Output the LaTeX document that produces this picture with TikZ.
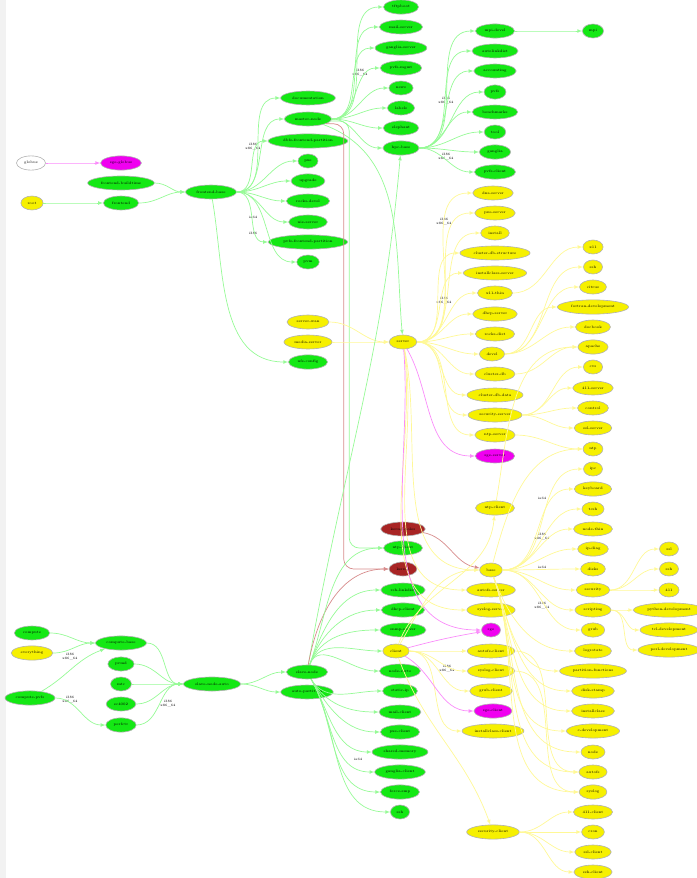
\documentclass[tikz,border=0pt]{standalone}
\usetikzlibrary{shapes.geometric}
\definecolor{myGreen}{RGB}{20,232,20}
\definecolor{myYellow}{RGB}{246,240,0}
\definecolor{myMagenta}{RGB}{240,0,240}
\definecolor{myBrown}{RGB}{168,36,36}
\definecolor{lineGreen}{RGB}{150,250,150}
\definecolor{lineYellow}{RGB}{255,248,150}
\definecolor{lineMagenta}{RGB}{250,140,250}
\definecolor{lineBrown}{RGB}{215,140,140}
\tikzset{
  vtx/.style={ellipse, draw=gray!60, line width=0.6pt, inner sep=3.4pt, minimum width=19pt, minimum height=14pt, font=\fontsize{3.6}{4}\selectfont},
  gn/.style={vtx, fill=myGreen},
  yn/.style={vtx, fill=myYellow},
  mn/.style={vtx, fill=myMagenta},
  rn/.style={vtx, fill=myBrown},
  wn/.style={vtx, fill=white},
  ge/.style={draw=lineGreen, line width=0.7pt, -latex, out=0, in=180},
  ye/.style={draw=lineYellow, line width=0.7pt, -latex, out=0, in=180},
  me/.style={draw=lineMagenta, line width=0.7pt, -latex, out=0, in=180},
  re/.style={draw=lineBrown, line width=0.7pt, -latex, out=0, in=180},
  arch/.style={font=\fontsize{3.4}{3.8}\selectfont, align=center, inner sep=0pt}
}
\begin{document}
\begin{tikzpicture}[x=1pt, y=-1pt]
		\useasboundingbox (0,0) rectangle (696,878);
		\fill[gray!10] (0,0) rectangle (6,878);
		%%%%%%%%%%%%% frontend side
		\node[wn] (globus) at (31, 163) {globus};
		\node[mn] (sge-globus) at (121, 163) {sge-globus};
		\node[gn] (frontend-buildtime) at (121, 183) {frontend-buildtime};
		\node[yn] (root) at (32, 203) {root};
		\node[gn] (frontend) at (121, 203) {frontend};
		\node[gn] (frontend-base) at (211, 192) {frontend-base};
		\node[gn] (documentation) at (308, 98) {documentation};
		\node[gn] (master-node) at (308, 119) {master-node};
		\node[gn] (dbfs-frontend-partition) at (308, 141) {dbfs-frontend-partition};
		\node[gn] (pxe) at (308, 161) {pxe};
		\node[gn] (upgrade) at (308, 181) {upgrade};
		\node[gn] (rocks-devel) at (308, 201) {rocks-devel};
		\node[gn] (nis-server) at (308, 222) {nis-server};
		\node[gn] (pvfs-frontend-partition) at (308, 242) {pvfs-frontend-partition};
		\node[gn] (pvm) at (308, 262) {pvm};
		\node[yn] (server-wan) at (308, 322) {server-wan};
		\node[yn] (media-server) at (308, 342) {media-server};
		\node[gn] (nfs-config) at (308, 362) {nfs-config};
		%%%%%%%%%%%%% master-node children
		\node[gn] (tftpboot) at (401, 7) {tftpboot};
		\node[gn] (mail-server) at (401, 27) {mail-server};
		\node[gn] (ganglia-server) at (401, 48) {ganglia-server};
		\node[gn] (pvfs-mgmt) at (401, 68) {pvfs-mgmt};
		\node[gn] (news) at (401, 88) {news};
		\node[gn] (labels) at (401, 108) {labels};
		\node[gn] (elephant) at (401, 128) {elephant};
		\node[gn] (hpc-base) at (401, 148) {hpc-base};
		%%%%%%%%%%%%% hpc-base children
		\node[gn] (mpi-devel) at (495, 31) {mpi-devel};
		\node[gn] (mpi) at (593, 31) {mpi};
		\node[gn] (autolinkdist) at (495, 51) {autolinkdist};
		\node[gn] (accounting) at (495, 71) {accounting};
		\node[gn] (pvfs) at (495, 92) {pvfs};
		\node[gn] (benchmarks) at (495, 112) {benchmarks};
		\node[gn] (tool) at (495, 132) {tool};
		\node[gn] (ganglia) at (495, 152) {ganglia};
		\node[gn] (pvfs-client) at (495, 172) {pvfs-client};
		%%%%%%%%%%%%% server side
		\node[yn] (server) at (403, 342) {server};
		\node[yn] (dns-server) at (493, 193) {dns-server};
		\node[yn] (pxe-server) at (495, 213) {pxe-server};
		\node[yn] (install) at (495, 233) {install};
		\node[yn] (cluster-db-structure) at (495, 253) {cluster-db-structure};
		\node[yn] (installclass-server) at (495, 273) {installclass-server};
		\node[yn] (x11-thin) at (495, 293) {x11-thin};
		\node[yn] (dhcp-server) at (495, 314) {dhcp-server};
		\node[yn] (rocks-dist) at (495, 334) {rocks-dist};
		\node[yn] (devel) at (492, 354) {devel};
		\node[yn] (cluster-db) at (495, 374) {cluster-db};
		\node[yn] (cluster-db-data) at (495, 395) {cluster-db-data};
		\node[yn] (security-server) at (495, 415) {security-server};
		\node[yn] (ntp-server) at (495, 435) {ntp-server};
		\node[mn] (sge-server) at (495, 456) {sge-server};
		\node[yn] (x11) at (593, 247) {x11};
		\node[yn] (ssh-d) at (593, 267) {ssh};
		\node[yn] (citrus) at (593, 287) {citrus};
		\node[yn] (fortran-development) at (593, 307) {fortran-development};
		\node[yn] (docbook) at (593, 327) {docbook};
		\node[yn] (apache) at (593, 347) {apache};
		\node[yn] (cvs) at (593, 367) {cvs};
		\node[yn] (411-server) at (593, 388) {411-server};
		\node[yn] (control) at (593, 408) {control};
		\node[yn] (ssl-server) at (593, 428) {ssl-server};
		\node[yn] (ntp) at (593, 449) {ntp};
		\node[yn] (ipc) at (593, 469) {ipc};
		\node[yn] (keyboard) at (593, 489) {keyboard};
		\node[yn] (tcsh) at (593, 509) {tcsh};
		\node[yn] (node-thin) at (593, 529) {node-thin};
		\node[yn] (ip-diag) at (593, 549) {ip-diag};
		\node[yn] (disks) at (593, 569) {disks};
		\node[yn] (security) at (593, 590) {security};
		\node[yn] (scripting) at (593, 610) {scripting};
		\node[yn] (grub) at (593, 630) {grub};
		\node[yn] (logrotate) at (593, 651) {logrotate};
		\node[yn] (partition-functions) at (593, 671) {partition-functions};
		\node[yn] (disk-stamp) at (593, 691) {disk-stamp};
		\node[yn] (installclass) at (593, 711) {installclass};
		\node[yn] (c-development) at (593, 731) {c-development};
		\node[yn] (node) at (593, 752) {node};
		\node[yn] (autofs) at (593, 772) {autofs};
		\node[yn] (syslog) at (593, 792) {syslog};
		\node[yn] (411-client) at (593, 812) {411-client};
		\node[yn] (cron) at (593, 832) {cron};
		\node[yn] (ssl-client) at (593, 852) {ssl-client};
		\node[yn] (ssh-client) at (593, 872) {ssh-client};
		\node[yn] (ssl) at (669, 549) {ssl};
		\node[yn] (ssh) at (669, 569) {ssh};
		\node[yn] (411) at (669, 590) {411};
		\node[yn] (python-development) at (669, 610) {python-development};
		\node[yn] (tcl-development) at (669, 630) {tcl-development};
		\node[yn] (perl-development) at (669, 650) {perl-development};
		%%%%%%%%%%%%% base and client
		\node[yn] (ntp-client-y) at (495, 508) {ntp-client};
		\node[yn] (base) at (491, 570) {base};
		\node[yn] (autofs-server) at (491, 590) {autofs-server};
		\node[yn] (syslog-server) at (491, 610) {syslog-server};
		\node[mn] (sge) at (491, 630) {sge};
		\node[yn] (autofs-client) at (491, 651) {autofs-client};
		\node[yn] (syslog-client) at (491, 671) {syslog-client};
		\node[yn] (grub-client) at (491, 691) {grub-client};
		\node[mn] (sge-client) at (493, 711) {sge-client};
		\node[yn] (installclass-client) at (493, 731) {installclass-client};
		\node[yn] (security-client) at (493, 832) {security-client};
		%%%%%%%%%%%%% compute side
		\node[gn] (compute) at (32, 633) {compute};
		\node[yn] (everything) at (32, 653) {everything};
		\node[gn] (compute-pvfs) at (30, 698) {compute-pvfs};
		\node[gn] (compute-base) at (121, 643) {compute-base};
		\node[gn] (pvmd) at (121, 664) {pvmd};
		\node[gn] (mtc) at (121, 684) {mtc};
		\node[gn] (ec4002) at (121, 704) {ec4002};
		\node[gn] (perfctr) at (121, 725) {perfctr};
		\node[gn] (slave-node-auto) at (212, 684) {slave-node-auto};
		\node[gn] (slave-node) at (307, 672) {slave-node};
		\node[gn] (auto-partition) at (307, 692) {auto-partition};
		\node[rn] (kernel-roles) at (403, 529) {kernel-roles};
		\node[gn] (ntp-client) at (403, 548) {ntp-client};
		\node[rn] (kernel) at (403, 569) {kernel};
		\node[gn] (rsh-linkdist) at (403, 590) {rsh-linkdist};
		\node[gn] (dhcp-client) at (403, 610) {dhcp-client};
		\node[gn] (snmp-server) at (403, 630) {snmp-server};
		\node[yn] (client) at (396, 651) {client};
		\node[gn] (node-certs) at (400, 671) {node-certs};
		\node[gn] (static-ip) at (400, 691) {static-ip};
		\node[gn] (mail-client) at (400, 712) {mail-client};
		\node[gn] (pxe-client) at (400, 732) {pxe-client};
		\node[gn] (shared-memory) at (400, 752) {shared-memory};
		\node[gn] (ganglia-client) at (400, 772) {ganglia-client};
		\node[gn] (force-smp) at (400, 792) {force-smp};
		\node[gn] (ssh-node) at (400, 812) {ssh};
		%%%%%%%%%%%%% arch labels
		\node[arch] (l1) at (360, 73) {i386\\x86\_64};
		\node[arch] (l2) at (446, 101) {i386\\x86\_64};
		\node[arch] (l3) at (446, 157) {i386\\x86\_64};
		\node[arch] (l4) at (253, 147) {i386\\x86\_64};
		\node[arch] (l5) at (253, 217) {ia64};
		\node[arch] (l6) at (253, 233) {i386};
		\node[arch] (l7) at (444, 222) {i386\\x86\_64};
		\node[arch] (l8) at (444, 301) {i386\\x86\_64};
		\node[arch] (l9) at (542, 498) {ia64};
		\node[arch] (l10) at (542, 537) {i386\\x86\_64};
		\node[arch] (l11) at (542, 567) {ia64};
		\node[arch] (l12) at (542, 606) {i386\\x86\_64};
		\node[arch] (l13) at (447, 669) {i386\\x86\_64};
		\node[arch] (l14) at (358, 759) {ia64};
		\node[arch] (l15) at (70, 657) {i386\\x86\_64};
		\node[arch] (l16) at (70, 700) {i386\\x86\_64};
		\node[arch] (l17) at (168, 704) {i386\\x86\_64};
		%%%%%%%%%%%%% frontend edges
		\draw [me] (globus) to (sge-globus);
		\draw [ge] (root) to (frontend);
		\draw [ge] (frontend-buildtime) to (frontend-base);
		\draw [ge] (frontend) to (frontend-base);
		\foreach \t in {documentation, master-node, dbfs-frontend-partition, pxe, upgrade, rocks-devel, nis-server, pvfs-frontend-partition, pvm}
			\draw [ge] (frontend-base) to (\t);
		\draw [ge] (frontend-base) to[out=-80, in=180] (nfs-config);
		\foreach \t in {tftpboot, mail-server, ganglia-server, pvfs-mgmt, news, labels, elephant, hpc-base}
			\draw [ge] (master-node) to (\t);
		\draw [ge] (master-node) to[out=-20, in=95] (server);
		\draw [ge, rounded corners=10pt] (master-node.-5) -| ([xshift=-34pt]ntp-client.west) -- (ntp-client);
		\draw [re, rounded corners=10pt] (master-node.-15) -| ([xshift=-45pt]kernel.west) -- (kernel);
		\foreach \t in {mpi-devel, autolinkdist, accounting, pvfs, benchmarks, tool, ganglia, pvfs-client}
			\draw [ge] (hpc-base) to (\t);
		\draw [ge] (mpi-devel) to (mpi);
		%%%%%%%%%%%%% server edges
		\draw [ye] (server-wan) to (server);
		\draw [ye] (media-server) to (server);
		\foreach \t in {dns-server, pxe-server, install, cluster-db-structure, installclass-server, x11-thin, dhcp-server, rocks-dist, devel, cluster-db, cluster-db-data, security-server, ntp-server}
			\draw [ye] (server) to (\t);
		\draw [me] (server) to[out=-60, in=180] (sge-server);
		\draw [ye] (server) to[out=-78, in=180] (base);
		\draw [ye] (server) to[out=-80, in=180] (autofs-server);
		\draw [ye] (server) to[out=-82, in=180] (syslog-server);
		\draw [me] (server) to[out=-85, in=180] (sge);
		\draw [ye] (x11-thin) to (x11);
		\foreach \t in {ssh-d, citrus, fortran-development, docbook}
			\draw [ye] (devel) to (\t);
		\draw [ye] (cluster-db) to (apache);
		\foreach \t in {cvs, 411-server, control, ssl-server}
			\draw [ye] (security-server) to (\t);
		\draw [ye] (ntp-server) to (ntp);
		\draw [ye] (ntp-client-y) to[out=80, in=180] (apache);
		%%%%%%%%%%%%% base edges
		\foreach \t in {ipc, keyboard, tcsh, node-thin, ip-diag, disks, security, scripting, grub}
			\draw [ye] (base) to (\t);
		\foreach \t in {logrotate, partition-functions, disk-stamp, installclass, c-development, node, autofs, syslog}
			\draw [ye] (base) to[out=-70, in=180] (\t);
		\draw [ye] (base) to[out=75, in=180] (ntp);
		\foreach \t in {ssl, ssh, 411}
			\draw [ye] (security) to (\t);
		\foreach \t in {python-development, tcl-development, perl-development}
			\draw [ye] (scripting) to (\t);
		\draw [re] (kernel-roles) to[out=-10, in=170] (base);
		%%%%%%%%%%%%% client edges
		\draw [ye] (client) to[out=60, in=180] (base);
		\draw [ye] (client) to[out=70, in=-95] (ntp-client-y);
		\draw [me] (client) to[out=15, in=190] (sge);
		\foreach \t in {autofs-client, syslog-client, grub-client, installclass-client}
			\draw [ye] (client) to (\t);
		\draw [me] (client) to[out=-30, in=180] (sge-client);
		\draw [ye] (client) to[out=-70, in=110] (security-client);
		\draw [ye] (autofs-client) to (autofs);
		\draw [ye] (syslog-client) to (syslog);
		\foreach \t in {411-client, cron, ssl-client, ssh-client}
			\draw [ye] (security-client) to (\t);
		%%%%%%%%%%%%% compute edges
		\draw [ge] (compute) to (compute-base);
		\draw [ge] (everything) to (compute-base);
		\draw [ge] (compute-pvfs) to[out=30, in=200] (compute-base);
		\draw [ge] (compute-pvfs) to (perfctr);
		\foreach \t in {compute-base, pvmd, mtc, ec4002, perfctr}
			\draw [ge] (\t) to (slave-node-auto);
		\draw [ge] (slave-node-auto) to (slave-node);
		\draw [ge] (slave-node-auto) to (auto-partition);
		\draw [ge] (slave-node) to[out=80, in=-95] (hpc-base);
		\draw [re] (slave-node) to[out=80, in=180] (kernel);
		\foreach \t in {ntp-client, rsh-linkdist, dhcp-client, snmp-server, client, node-certs}
			\draw [ge] (slave-node) to[out=70, in=180] (\t);
		\foreach \t in {static-ip, mail-client, pxe-client, shared-memory, ganglia-client, force-smp, ssh-node}
			\draw [ge] (slave-node) to[out=-60, in=180] (\t);
\end{tikzpicture}
\end{document}
